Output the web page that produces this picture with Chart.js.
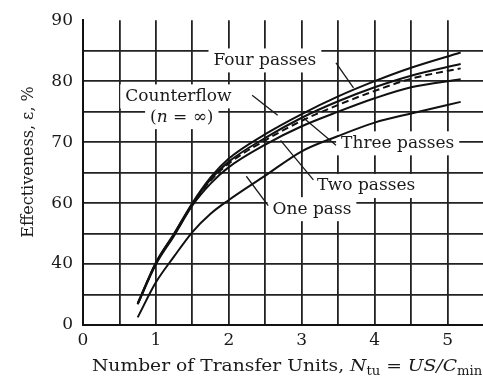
<!DOCTYPE html>
<html lang="en">
<head>
<meta charset="UTF-8">
<title>Effectiveness vs NTU</title>
<script src="https://cdn.jsdelivr.net/npm/chart.js"></script>
<style>
    html, body { margin: 0; padding: 0; background: #fff; overflow: hidden; }
    canvas { display: block; }
</style>
</head>
<body>
<!-- a little wider than the window: the scan cuts the last grid column off -->
<canvas id="chart" width="489" height="379"></canvas>
<script>
// values (effectiveness in %)
const ntu = [0.75, 1, 1.25, 1.5, 1.75, 2, 2.5, 3, 3.5, 4, 4.5, 5.18];
const fourPasses  = [14, 40.5, 50, 60, 64.2, 67.3, 71.3, 74.6, 77.5, 80, 82.2, 84.7];
const threePasses = [14, 40.3, 49.8, 59.7, 63.9, 66.8, 70.7, 74.0, 76.7, 79.0, 80.9, 82.8];
const counterflow = [14, 40.2, 49.6, 59.5, 63.7, 66.5, 70.3, 73.5, 76.1, 78.4, 80.4, 82.1];
const twoPasses   = [13.5, 39.8, 49.3, 59.2, 63.2, 65.9, 69.6, 72.6, 75.0, 77.2, 79.0, 80.3];
const onePass     = [5, 28, 42.5, 50.5, 56.5, 60.5, 64.5, 68.5, 71, 73.2, 74.7, 76.6];

const yTickLabels = [0, 40, 60, 70, 80, 90];
const xTickLabels = [0, 1, 2, 3, 4, 5];

// the printed y axis is not linear: its labels sit at equal steps
function toStep(v) {
    for (let i = 1; i < yTickLabels.length; i++) {
        if (v <= yTickLabels[i]) {
            const a = yTickLabels[i - 1], b = yTickLabels[i];
            return i - 1 + (v - a) / (b - a);
        }
    }
    return yTickLabels.length - 1;
}

const pts = vals => vals.map((v, i) => ({ x: ntu[i], y: toStep(v) }));

// curve labels, with leader lines, in data coordinates (NTU, %)
const notes = [
    { parts: [['Four passes', '']], at: [1.79, 83.4], from: [3.47, 83.0], to: [3.71, 78.9] },
    { parts: [['Counterflow', '']], at: [0.58, 77.5], from: [2.32, 77.7], to: [2.67, 74.4] },
    { parts: [['(', ''], ['n', 'i'], [' = \u221E)', '']], at: [0.92, 74.1] },
    { parts: [['Three passes', '']], at: [3.54, 69.8], from: [3.47, 69.5], to: [3.03, 73.9] },
    { parts: [['Two passes', '']], at: [3.21, 62.8], from: [3.16, 63.8], to: [2.71, 70.3] },
    { parts: [['One pass', '']], at: [2.6, 58.0], from: [2.54, 59.2], to: [2.24, 64.4] },
];

const FAMILY = "'DejaVu Serif', serif";
const INK = '#1a1a1a';

function fontFor(kind) {
    if (kind === 'i') return 'italic 17px ' + FAMILY;
    if (kind === 's') return '12px ' + FAMILY;
    return '17px ' + FAMILY;
}

function partsWidth(ctx, parts) {
    let w = 0;
    for (const [t, k] of parts) { ctx.font = fontFor(k); w += ctx.measureText(t).width; }
    return w;
}

function drawParts(ctx, parts, x, y) {
    for (const [t, k] of parts) {
        ctx.font = fontFor(k);
        ctx.fillText(t, x, k === 's' ? y + 4 : y);
        x += ctx.measureText(t).width;
    }
}

const notesPlugin = {
    id: 'notes',
    beforeDraw(chart) {
        const c = chart.ctx;
        c.save();
        c.fillStyle = '#fff';
        c.fillRect(0, 0, chart.width, chart.height);
        c.restore();
    },
    beforeDatasetsDraw(chart) {
        const c = chart.ctx, xs = chart.scales.x, ys = chart.scales.y;
        c.save();
        c.textBaseline = 'middle';
        for (const n of notes) {
            const px = xs.getPixelForValue(n.at[0]);
            const py = ys.getPixelForValue(toStep(n.at[1]));
            const w = partsWidth(c, n.parts);
            c.fillStyle = '#fff';
            c.fillRect(px - 5, py - 12, w + 10, 24);
            c.fillStyle = INK;
            drawParts(c, n.parts, px, py);
            if (n.from) {
                c.beginPath();
                c.moveTo(xs.getPixelForValue(n.from[0]), ys.getPixelForValue(toStep(n.from[1])));
                c.lineTo(xs.getPixelForValue(n.to[0]), ys.getPixelForValue(toStep(n.to[1])));
                c.strokeStyle = INK;
                c.lineWidth = 1.3;
                c.stroke();
            }
        }
        c.restore();
    },
    afterDraw(chart) {
        const c = chart.ctx;
        c.save();
        c.fillStyle = INK;
        c.textBaseline = 'alphabetic';
        // x axis title, a little wider like the scan
        const xt = [['Number of Transfer Units, ', ''], ['N', 'i'], ['tu', 's'], [' = ', ''], ['US/C', 'i'], ['min', 's']];
        c.save();
        c.translate(92, 371);
        c.scale(1.1, 1);
        drawParts(c, xt, 0, 0);
        c.restore();
        // y axis title
        c.translate(33, 162);
        c.rotate(-Math.PI / 2);
        c.font = '16px ' + FAMILY;
        c.textAlign = 'center';
        c.fillText('Effectiveness, \u03B5, %', 0, 0);
        c.restore();
    }
};

const gridStyle = {
    color: ctx => (ctx.tick && ctx.tick.value === 5 && ctx.scale.axis === 'y') ? 'rgba(0,0,0,0)' : '#222',
    lineWidth: 1.8,
    drawTicks: false
};

const line = (data, dash) => ({
    data: pts(data),
    borderColor: '#111',
    borderWidth: 2,
    borderDash: dash || [],
    pointRadius: 0,
    cubicInterpolationMode: 'monotone',
    fill: false
});

new Chart(document.getElementById('chart'), {
    type: 'line',
    data: {
        datasets: [
            line(fourPasses),
            line(threePasses),
            line(counterflow, [7, 4]),
            line(twoPasses),
            line(onePass)
        ]
    },
    options: {
        responsive: false,
        animation: false,
        layout: { padding: { top: 20, right: 0, left: 0, bottom: 0 } },
        plugins: { legend: { display: false }, tooltip: { enabled: false } },
        scales: {
            x: {
                type: 'linear',
                min: 0,
                max: 5.5,
                afterFit: s => { s.height = 54; },
                ticks: {
                    stepSize: 0.5,
                    padding: 5,
                    autoSkip: false,
                    maxRotation: 0,
                    color: INK,
                    font: { family: FAMILY, size: 17 },
                    callback: v => xTickLabels.includes(v) ? String(v) : ''
                },
                grid: gridStyle,
                border: { color: '#111', width: 2 }
            },
            y: {
                type: 'linear',
                min: 0,
                max: 5,
                afterFit: s => { s.width = 83; },
                ticks: {
                    stepSize: 0.5,
                    padding: 10,
                    autoSkip: false,
                    color: INK,
                    font: { family: FAMILY, size: 17 },
                    callback: v => Number.isInteger(v) ? String(yTickLabels[v]) : ''
                },
                grid: gridStyle,
                border: { color: '#111', width: 2 }
            }
        }
    },
    plugins: [notesPlugin]
});
</script>
</body>
</html>
